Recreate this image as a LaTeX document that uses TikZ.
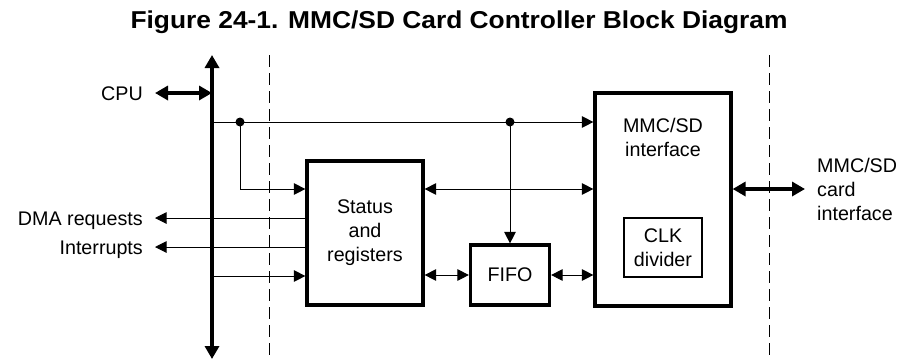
\documentclass[tikz,border=0pt]{standalone}
\usepackage{fontspec}
\setmainfont{Liberation Sans}
\newfontfamily\titlefont{Liberation Sans}[FakeStretch=1.08]
\usepackage{tikz}
\usetikzlibrary{arrows.meta}
\newcommand{\bodysize}{\fontsize{19.7pt}{24pt}\selectfont}

\begin{document}
\begin{tikzpicture}[
  x=1pt,y=-1pt,
  blockbox/.style={draw,line width=3.2pt,align=center,font=\bodysize,inner sep=0pt},
  clkbox/.style={draw,line width=2pt,align=center,font=\bodysize,inner sep=0pt,minimum width=78pt,minimum height=59pt},
  txt/.style={align=center,font=\bodysize,inner sep=0pt},
  sidelabel/.style={font=\bodysize,inner xsep=12pt,inner ysep=0pt,text height=14pt,text depth=0pt},
  cardlabel/.style={font=\bodysize,align=left,inner xsep=12pt,inner ysep=0pt},
  sig/.style={line width=1pt,-{Triangle[length=11.5pt,width=11.5pt]}},
  sigboth/.style={line width=1pt,{Triangle[length=11.5pt,width=11.5pt]}-{Triangle[length=11.5pt,width=11.5pt]}},
  fatboth/.style={line width=3.6pt,{Triangle[length=13pt,width=14pt]}-{Triangle[length=13pt,width=14pt]}},
  busline/.style={line width=4.4pt,{Triangle[length=13pt,width=14pt]}-{Triangle[length=13pt,width=14pt]}},
  divider/.style={line width=1pt,dash pattern=on 12pt off 6pt},
  junction/.style={circle,fill,inner sep=0pt,minimum size=9pt}
]
\useasboundingbox (0,0) rectangle (904,360);
\node[font=\titlefont\bfseries\fontsize{24.4pt}{28pt}\selectfont,anchor=base] (title) at (459,28.3) {Figure 24-1. MMC/SD Card Controller Block Diagram};

% blocks
\node[blockbox,minimum width=116pt,minimum height=144pt] (status) at (365,233) {Status\\and\\registers};
\node[blockbox,minimum width=136pt,minimum height=213pt] (mmc) at (663,199.5) {};
\node[txt] (mmctext) at (663,137) {MMC/SD\\interface};
\node[clkbox] (clk) at (663,247.5) {CLK\\divider};
\node[blockbox,minimum width=79pt,minimum height=60pt] (fifo) at (510,275) {FIFO};

% outside signals
\node[sidelabel,anchor=east] (cpu) at (155,93) {CPU};
\node[sidelabel,anchor=east] (dma) at (155,218) {DMA requests};
\node[sidelabel,anchor=east] (irq) at (155,247) {Interrupts};
\node[cardlabel,anchor=west] (card) at (805,189) {MMC/SD\\card\\interface};

% bus
\coordinate (bustop) at (212,55);
\coordinate (busbot) at (212,359);
\coordinate (tap1) at (212,122);
\coordinate (tap2) at (212,276);
\node[junction] (dot1) at (240,122) {};
\node[junction] (dot2) at (510,122) {};

\draw[divider] (269,55) -- (269,360);
\draw[divider] (769,55) -- (769,360);
\draw[busline] (busbot) -- (bustop);
\draw[fatboth] (cpu.east) -- (cpu.east -| bustop);

\draw[sig] (tap1) -- (tap1 -| mmc.west);
\draw[sig] (dot1.center) |- ([yshift=44pt]status.west);
\draw[sig] (status.west |- dma) -- (dma.east);
\draw[sig] (status.west |- irq) -- (irq.east);
\draw[sig] (tap2) -- (tap2 -| status.west);
\draw[sigboth] ([yshift=44pt]status.east) -- (mmc.west |- 0,189);
\draw[sig] (dot2.center) -- (fifo.north);
\draw[sigboth] (status.east |- fifo) -- (fifo.west);
\draw[sigboth] (fifo.east) -- (fifo.east -| mmc.west);
\draw[fatboth] (mmc.east |- card) -- (card.west);
\end{tikzpicture}
\end{document}
